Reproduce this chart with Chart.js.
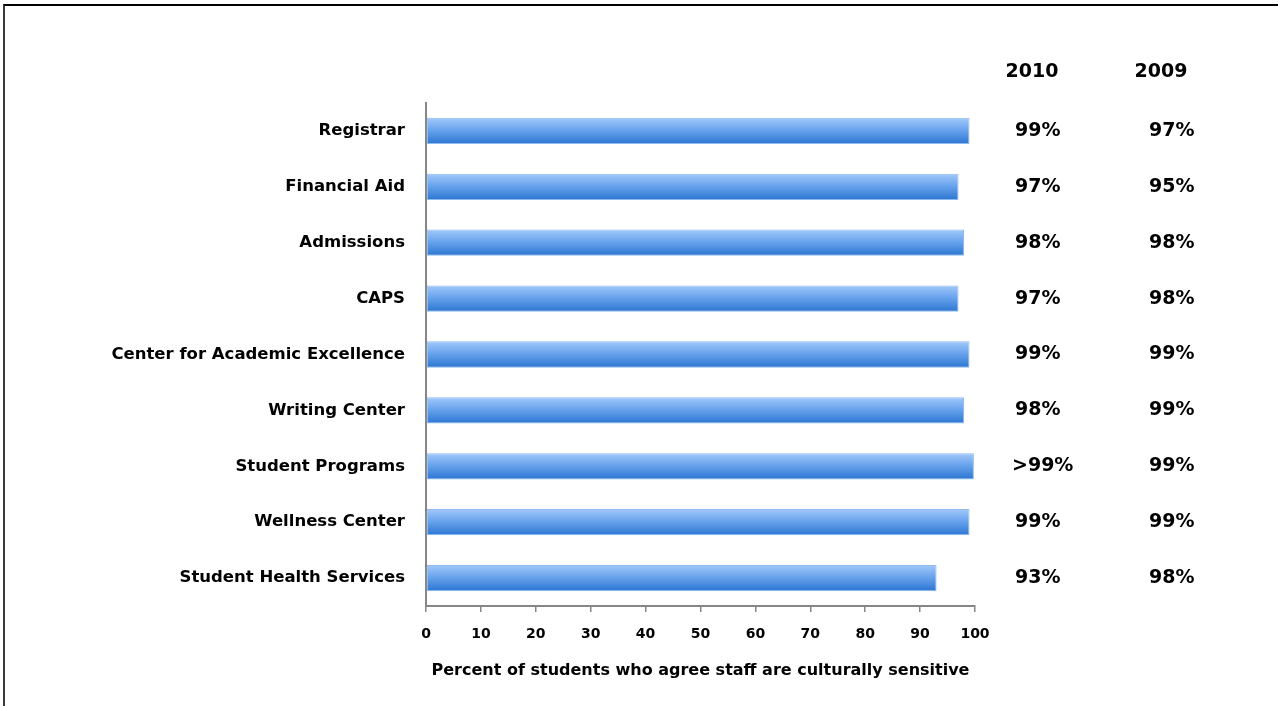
<!DOCTYPE html>
<html>
<head>
<meta charset="utf-8">
<script src="https://cdn.jsdelivr.net/npm/chart.js@4.4.1/dist/chart.umd.min.js"></script>
<style>
  html, body { margin: 0; padding: 0; background: #fff; }
  #wrap { position: relative; width: 1278px; height: 706px; overflow: hidden; }
  #frame {
    position: absolute; left: 3px; top: 4px; width: 1300px; height: 720px;
    border-top: 2px solid #000; border-left: 2px solid #3a3a3a;
    pointer-events: none;
  }
</style>
</head>
<body>
<div id="wrap">
  <canvas id="grafico"></canvas>
  <div id="frame"></div>
</div>
<script>
// dados
const categorias = ['Registrar', 'Financial Aid', 'Admissions', 'CAPS',
  'Center for Academic Excellence', 'Writing Center', 'Student Programs',
  'Wellness Center', 'Student Health Services'];
const valores2010 = [99, 97, 98, 97, 99, 98, 99.8, 99, 93];
const rotulos2010 = ['99%', '97%', '98%', '97%', '99%', '98%', '>99%', '99%', '93%'];
const rotulos2009 = ['97%', '95%', '98%', '98%', '99%', '99%', '99%', '99%', '98%'];
const colunas = ['2010', '2009'];
const eixoX = { min: 0, max: 100, passo: 10 };
const tituloX = 'Percent of students who agree staff are culturally sensitive';

const FONTE = '"DejaVu Sans", sans-serif';

// gradiente vertical de cada barra
function corBarra(context) {
  const chart = context.chart;
  const y = chart.scales && chart.scales.y;
  if (!chart.chartArea || !y) return '#5b9be8';
  const centro = y.getPixelForValue(context.dataIndex);
  const g = chart.ctx.createLinearGradient(0, centro - 13, 0, centro + 13);
  g.addColorStop(0, '#a2c8f9');
  g.addColorStop(0.45, '#6aa4ee');
  g.addColorStop(1, '#2c76d1');
  return g;
}

// colunas de percentuais à direita
const colunasTexto = {
  id: 'colunasTexto',
  afterDatasetsDraw(chart) {
    const { ctx } = chart;
    const y = chart.scales.y;
    ctx.save();
    ctx.fillStyle = '#000';
    ctx.font = 'bold 19px ' + FONTE;
    ctx.textBaseline = 'middle';
    ctx.textAlign = 'center';
    ctx.fillText(colunas[0], 1032, 72);
    ctx.fillText(colunas[1], 1161, 72);
    ctx.textAlign = 'left';
    categorias.forEach((c, i) => {
      const py = y.getPixelForValue(i);
      ctx.fillText(rotulos2010[i], i === 6 ? 1012 : 1015, py);
      ctx.fillText(rotulos2009[i], 1149, py);
    });
    ctx.restore();
  }
};

const ctx = document.getElementById('grafico').getContext('2d');
const meuGrafico = new Chart(ctx, {
  type: 'bar',
  data: {
    labels: categorias,
    datasets: [{
      data: valores2010,
      backgroundColor: corBarra,
      borderColor: '#8fbaf0',
      borderWidth: 1,
      borderSkipped: false,
      barPercentage: 0.47,
      categoryPercentage: 1
    }]
  },
  options: {
    indexAxis: 'y',
    responsive: true,
    maintainAspectRatio: false,
    animation: false,
    layout: { padding: { top: 103, right: 303, bottom: 22, left: 0 } },
    plugins: {
      legend: { display: false },
      tooltip: { enabled: false }
    },
    scales: {
      x: {
        type: 'linear',
        min: eixoX.min,
        max: eixoX.max,
        ticks: {
          stepSize: eixoX.passo,
          color: '#000',
          font: { family: FONTE, weight: 'bold', size: 14 },
          padding: 14
        },
        grid: {
          drawOnChartArea: false,
          drawTicks: true,
          tickLength: 6,
          color: '#868686',
          lineWidth: 1.5
        },
        border: { display: true, color: '#868686', width: 2 },
        title: {
          display: true,
          text: tituloX,
          color: '#000',
          font: { family: FONTE, weight: 'bold', size: 16 },
          padding: { top: 14 }
        },
        afterFit(scale) { scale.height = 78; }
      },
      y: {
        grid: { display: false },
        border: { display: true, color: '#868686', width: 2 },
        ticks: {
          color: '#000',
          font: { family: FONTE, weight: 'bold', size: 16.5 },
          padding: 13
        },
        afterFit(scale) { scale.width = 426; }
      }
    }
  },
  plugins: [colunasTexto]
});
</script>
</body>
</html>
